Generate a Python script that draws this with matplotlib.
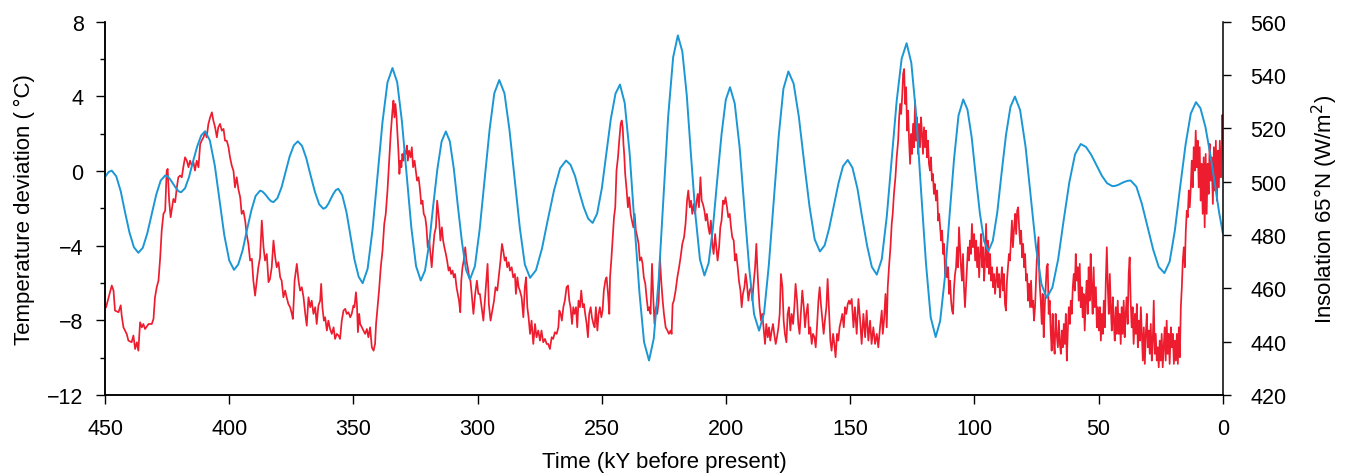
import matplotlib
matplotlib.use("Agg")
import matplotlib.pyplot as plt
from matplotlib.ticker import MultipleLocator

plt.rcParams['font.family'] = ['Liberation Sans', 'DejaVu Sans']

# insolation at 65N (W/m2)
insol_age = [450.0, 448.6, 447.3, 445.5, 443.7, 442.0, 440.2, 438.4, 436.6, 434.8, 433.0, 431.2, 429.4, 427.6,
             425.8, 424.7, 423.7, 422.6, 421.5, 420.5, 419.4, 417.8, 416.2, 414.6, 412.9, 411.3, 409.7, 407.8,
             405.8, 403.9, 402.0, 400.0, 398.1, 396.4, 394.6, 392.9, 391.1, 389.4, 387.6, 386.7, 385.8, 384.9,
             384.0, 383.1, 382.2, 380.6, 378.9, 377.3, 375.7, 374.0, 372.4, 370.7, 369.0, 367.3, 365.5, 363.8,
             362.1, 361.1, 360.1, 359.1, 358.1, 357.1, 356.1, 354.5, 352.8, 351.2, 349.6, 347.9, 346.3, 344.3,
             342.3, 340.3, 338.3, 336.3, 334.3, 332.4, 330.5, 328.6, 326.7, 324.8, 322.9, 321.2, 319.5, 317.9,
             316.2, 314.5, 312.8, 311.2, 309.6, 308.0, 306.3, 304.7, 303.1, 301.1, 299.2, 297.2, 295.2, 293.3,
             291.3, 289.2, 287.2, 285.1, 283.0, 281.0, 278.9, 276.5, 274.1, 271.7, 269.2, 266.8, 264.4, 262.6,
             260.8, 259.1, 257.3, 255.5, 253.7, 251.9, 250.0, 248.2, 246.4, 244.5, 242.7, 240.8, 238.8, 236.9,
             234.9, 233.0, 231.0, 229.1, 227.1, 225.2, 223.3, 221.3, 219.4, 217.6, 215.8, 214.1, 212.3, 210.5,
             208.7, 207.0, 205.3, 203.6, 201.8, 200.1, 198.4, 196.5, 194.5, 192.6, 190.6, 188.7, 186.7, 184.7,
             182.8, 180.8, 178.8, 176.9, 174.9, 172.8, 170.7, 168.6, 166.4, 164.3, 162.2, 160.3, 158.5, 156.6,
             154.7, 152.9, 151.0, 149.1, 147.1, 145.2, 143.2, 141.3, 139.3, 137.3, 135.3, 133.3, 131.3, 129.3,
             127.3, 125.4, 123.4, 121.5, 119.5, 117.6, 115.6, 113.8, 111.9, 110.1, 108.2, 106.4, 104.5, 102.8,
             101.1, 99.5, 97.8, 96.1, 94.4, 92.6, 90.8, 89.1, 87.3, 85.5, 83.7, 81.6, 79.4, 77.3,
             75.2, 73.0, 70.9, 68.6, 66.3, 64.1, 61.8, 59.5, 57.2, 55.1, 53.0, 50.9, 48.7, 46.6,
             44.5, 43.3, 42.0, 40.8, 39.6, 38.3, 37.1, 34.8, 32.6, 30.3, 28.0, 25.8, 23.5, 21.4,
             19.3, 17.2, 15.0, 12.9, 10.8, 9.0, 7.0, 5.0, 3.0, 1.5, 0.0]
insol = [501.7, 503.6, 504.1, 502.0, 496.4, 488.7, 481.0, 475.4, 473.3, 475.2, 480.6, 487.8, 495.1, 500.4,
         502.3, 501.9, 500.7, 499.2, 497.6, 496.4, 496.0, 497.5, 501.7, 507.5, 513.2, 517.3, 518.9, 515.4,
         505.9, 492.9, 479.9, 470.4, 466.9, 468.9, 474.3, 481.8, 489.2, 494.6, 496.6, 496.3, 495.5, 494.5,
         493.4, 492.6, 492.3, 493.8, 498.0, 503.7, 509.4, 513.6, 515.1, 513.4, 508.8, 502.5, 496.1, 491.5,
         489.8, 490.3, 491.7, 493.6, 495.4, 496.8, 497.3, 494.9, 488.5, 479.6, 470.8, 464.3, 461.9, 467.3,
         482.1, 502.3, 522.4, 537.2, 542.6, 537.3, 522.7, 502.8, 482.8, 468.3, 462.9, 466.6, 476.9, 490.9,
         504.8, 515.1, 518.8, 515.1, 504.9, 491.1, 477.2, 467.0, 463.3, 468.3, 482.0, 500.7, 519.4, 533.1,
         538.1, 533.1, 519.5, 501.0, 482.5, 468.9, 463.9, 466.8, 474.9, 485.9, 496.9, 505.0, 507.9, 506.3,
         502.1, 496.2, 490.4, 486.1, 484.5, 488.0, 497.5, 510.5, 523.4, 533.0, 536.4, 529.5, 510.5, 484.7,
         458.8, 439.8, 432.9, 441.1, 463.4, 493.9, 524.3, 546.6, 554.8, 548.8, 532.3, 509.8, 487.3, 470.8,
         464.8, 469.5, 482.5, 500.1, 517.8, 530.7, 535.4, 529.3, 512.6, 489.8, 466.9, 450.2, 444.1, 450.6,
         468.4, 492.7, 517.0, 534.8, 541.3, 536.8, 524.4, 507.6, 490.7, 478.3, 473.8, 476.1, 482.4, 491.0,
         499.5, 505.8, 508.1, 505.2, 497.4, 486.6, 475.9, 468.0, 465.1, 470.9, 486.8, 508.5, 530.2, 546.1,
         551.9, 544.5, 524.4, 496.8, 469.3, 449.1, 441.7, 447.7, 464.0, 486.3, 508.5, 524.8, 530.8, 527.0,
         516.6, 502.4, 488.1, 477.7, 473.9, 477.8, 488.4, 502.9, 517.4, 528.0, 531.9, 526.8, 513.0, 494.2,
         475.3, 461.5, 456.4, 460.3, 470.8, 485.3, 499.7, 510.2, 514.1, 513.0, 510.1, 506.2, 502.2, 499.4,
         498.3, 498.4, 498.8, 499.4, 499.9, 500.3, 500.4, 498.1, 491.7, 483.1, 474.4, 468.0, 465.7, 470.0,
         481.7, 497.8, 513.8, 525.5, 529.8, 527.5, 520.5, 510.0, 498.0, 488.5, 480.8]

# temperature deviation (deg C)
temp_age = [449.6, 447.3, 446.6, 446.0, 444.6, 443.7, 443.3, 442.6, 441.3, 440.6, 439.3, 438.6, 437.9, 437.2,
            436.6, 435.9, 435.2, 434.6, 433.9, 432.5, 431.2, 430.5, 429.9, 429.2, 428.5, 427.8, 427.2, 426.5,
            425.8, 425.2, 424.8, 424.2, 423.6, 423.0, 422.5, 421.8, 421.1, 420.5, 419.8, 419.1, 418.5, 417.8,
            417.1, 416.4, 415.8, 415.1, 414.4, 413.8, 413.1, 412.4, 411.7, 411.1, 410.4, 409.7, 409.1, 408.4,
            407.7, 407.0, 406.4, 405.7, 405.0, 404.4, 403.7, 403.0, 402.3, 401.7, 401.0, 400.3, 399.7, 399.0,
            398.3, 397.7, 397.0, 396.3, 395.6, 395.0, 394.3, 393.6, 393.0, 392.3, 391.6, 390.9, 390.3, 389.6,
            388.9, 388.3, 387.6, 386.9, 386.2, 385.6, 384.9, 384.2, 383.6, 382.9, 382.2, 381.5, 380.9, 380.2,
            379.5, 378.9, 378.2, 377.5, 376.9, 376.2, 375.5, 374.8, 374.4, 373.9, 373.7, 372.8, 372.1, 371.5,
            370.8, 370.1, 369.4, 368.8, 368.1, 367.4, 366.8, 366.1, 365.4, 364.8, 364.1, 363.4, 363.0, 362.5,
            361.9, 361.4, 360.7, 360.1, 359.4, 358.7, 358.0, 357.4, 356.7, 356.0, 355.4, 354.7, 354.0, 353.3,
            352.7, 352.0, 351.3, 350.7, 350.0, 349.6, 349.0, 348.6, 348.2, 347.7, 347.3, 346.6, 346.0, 345.3,
            344.6, 344.0, 343.3, 342.6, 341.9, 341.3, 340.9, 340.3, 339.7, 339.0, 338.3, 337.6, 337.0, 336.3,
            335.6, 335.0, 334.3, 333.9, 333.5, 333.1, 332.7, 332.3, 331.9, 331.5, 331.1, 330.7, 330.3, 329.9,
            329.5, 328.9, 328.5, 328.1, 327.6, 327.0, 326.5, 326.0, 325.4, 324.9, 324.4, 323.8, 323.3, 322.7,
            322.2, 321.7, 321.1, 320.6, 320.1, 319.5, 319.0, 318.5, 317.9, 317.4, 316.8, 316.3, 315.9, 315.5,
            315.0, 314.4, 313.9, 313.4, 312.8, 312.3, 311.7, 311.2, 310.7, 310.1, 309.6, 309.1, 308.5, 308.0,
            307.5, 307.0, 306.6, 306.1, 305.6, 305.0, 304.5, 304.0, 303.4, 302.9, 302.4, 301.7, 301.0, 300.3,
            299.7, 299.1, 298.4, 297.7, 297.1, 296.4, 296.0, 295.5, 294.8, 294.1, 293.4, 292.8, 292.1, 291.4,
            290.8, 290.2, 289.7, 289.1, 288.6, 288.1, 287.5, 287.0, 286.3, 285.7, 285.0, 284.6, 284.0, 283.5,
            283.0, 282.3, 281.6, 281.0, 280.5, 280.0, 279.5, 278.9, 278.3, 277.6, 276.9, 276.3, 275.6, 274.9,
            274.3, 273.6, 272.9, 272.2, 271.6, 270.9, 270.2, 269.6, 268.9, 268.2, 267.5, 267.1, 266.6, 266.1,
            265.5, 264.9, 264.2, 263.6, 263.1, 262.6, 262.0, 261.5, 261.0, 260.4, 259.9, 259.4, 258.8, 258.3,
            257.7, 257.2, 256.7, 256.1, 255.6, 255.1, 254.5, 254.0, 253.4, 252.9, 252.4, 251.8, 251.3, 250.8,
            250.2, 249.7, 249.2, 248.6, 248.1, 247.5, 247.0, 246.7, 246.2, 245.7, 245.1, 244.6, 244.1, 243.5,
            243.0, 242.4, 242.0, 241.6, 241.3, 241.0, 240.6, 240.0, 239.5, 239.0, 238.4, 237.9, 237.3, 236.8,
            236.3, 235.7, 235.2, 234.7, 234.1, 233.6, 233.1, 232.5, 232.0, 231.4, 230.9, 230.4, 229.8, 229.3,
            228.8, 228.2, 227.7, 227.1, 226.6, 226.1, 225.5, 225.0, 224.3, 223.6, 223.0, 222.3, 221.9, 221.5,
            221.0, 220.3, 219.6, 218.9, 218.3, 217.6, 216.9, 216.3, 215.7, 215.2, 214.6, 214.1, 213.6, 213.0,
            212.5, 212.0, 211.4, 210.9, 210.3, 209.8, 209.3, 208.7, 208.2, 207.7, 207.1, 206.6, 206.1, 205.5,
            205.0, 204.4, 203.9, 203.4, 202.8, 202.3, 201.8, 201.2, 200.7, 200.2, 199.6, 199.1, 198.5, 198.0,
            197.5, 196.9, 196.4, 195.9, 195.3, 194.8, 194.2, 193.7, 193.2, 192.6, 192.1, 191.6, 191.0, 190.5,
            189.9, 189.4, 188.9, 188.3, 187.8, 187.4, 187.0, 186.5, 185.9, 185.4, 184.9, 184.3, 183.8, 183.2,
            182.7, 182.2, 181.6, 181.1, 180.6, 180.0, 179.5, 178.9, 178.4, 177.9, 177.3, 176.8, 176.3, 175.7,
            175.2, 174.7, 174.1, 173.6, 173.0, 172.5, 172.0, 171.4, 170.9, 170.4, 169.8, 169.3, 168.7, 168.2,
            167.7, 167.1, 166.6, 166.1, 165.5, 165.0, 164.4, 163.9, 163.4, 162.8, 162.3, 161.8, 161.2, 160.7,
            160.2, 159.6, 159.1, 158.5, 158.0, 157.5, 156.9, 156.4, 155.9, 155.3, 154.8, 154.3, 153.7, 153.2,
            152.6, 152.1, 151.6, 151.0, 150.5, 150.1, 149.4, 148.7, 148.1, 147.4, 146.7, 146.0, 145.4, 144.7,
            144.0, 143.4, 142.7, 142.0, 141.4, 140.7, 140.0, 139.3, 138.7, 138.0, 137.3, 136.9, 136.4, 135.8,
            135.3, 134.9, 134.4, 133.8, 133.3, 132.9, 132.4, 131.8, 131.3, 130.7, 130.3, 129.9, 129.5, 129.1,
            128.7, 128.3, 127.9, 127.5, 127.1, 126.7, 126.3, 125.9, 125.5, 125.1, 124.7, 124.3, 123.9, 123.5,
            123.1, 122.7, 122.3, 121.9, 121.5, 121.1, 120.7, 120.3, 119.9, 119.5, 119.1, 118.7, 118.3, 117.9,
            117.5, 117.1, 116.7, 116.3, 115.9, 115.5, 115.0, 114.6, 114.2, 113.8, 113.4, 113.0, 112.6, 112.2,
            111.8, 111.4, 111.0, 110.6, 110.2, 109.8, 109.4, 109.0, 108.6, 108.2, 107.8, 107.4, 107.0, 106.6,
            106.2, 105.8, 105.4, 105.0, 104.6, 104.2, 103.8, 103.4, 103.0, 102.6, 102.2, 101.8, 101.4, 101.0,
            100.6, 100.1, 99.7, 99.3, 98.9, 98.5, 98.1, 97.7, 97.3, 96.9, 96.5, 96.1, 95.7, 95.3,
            94.9, 94.5, 94.1, 93.7, 93.3, 92.9, 92.5, 92.1, 91.7, 91.3, 90.9, 90.5, 90.1, 89.7,
            89.3, 88.9, 88.5, 88.1, 87.7, 87.3, 86.9, 86.5, 86.1, 85.7, 85.3, 84.9, 84.5, 84.0,
            83.6, 83.2, 82.8, 82.4, 82.0, 81.6, 81.2, 80.8, 80.4, 80.0, 79.6, 79.2, 78.8, 78.4,
            78.0, 77.6, 77.2, 76.8, 76.4, 76.0, 75.6, 74.9, 74.2, 73.8, 73.3, 72.9, 72.5, 72.1,
            71.7, 71.3, 70.9, 70.5, 70.1, 69.7, 69.3, 68.9, 68.5, 68.1, 67.7, 67.3, 66.9, 66.4,
            66.0, 65.6, 65.2, 64.8, 64.4, 64.0, 63.6, 63.2, 62.8, 62.4, 62.0, 61.6, 61.2, 60.8,
            60.4, 60.0, 59.6, 59.2, 58.8, 58.4, 58.0, 57.6, 57.2, 56.8, 56.4, 56.0, 55.6, 55.2,
            54.8, 54.4, 54.0, 53.6, 53.2, 52.8, 52.4, 52.0, 51.6, 51.1, 50.7, 50.3, 49.9, 49.5,
            49.1, 48.7, 48.3, 47.9, 47.5, 47.1, 46.7, 46.3, 45.9, 45.5, 45.1, 44.7, 44.3, 43.9,
            43.5, 43.1, 42.7, 42.3, 41.9, 41.5, 41.1, 40.7, 40.3, 39.9, 39.5, 39.1, 38.7, 38.3,
            37.9, 37.5, 37.1, 36.7, 36.3, 35.9, 35.4, 35.0, 34.6, 34.2, 33.8, 33.4, 33.0, 32.6,
            32.2, 31.8, 31.4, 31.0, 30.6, 30.2, 29.8, 29.4, 29.0, 28.6, 28.2, 27.8, 27.4, 27.0,
            26.6, 26.2, 25.8, 25.4, 25.0, 24.6, 24.2, 23.8, 23.4, 23.0, 22.6, 22.2, 21.8, 21.4,
            20.9, 20.5, 20.1, 19.7, 19.3, 18.9, 18.5, 18.1, 17.7, 17.3, 16.9, 16.5, 16.1, 15.7,
            15.3, 14.9, 14.5, 14.1, 13.7, 13.3, 12.9, 12.5, 12.1, 11.7, 11.3, 10.9, 10.5, 10.1,
            9.7, 9.3, 8.9, 8.5, 8.1, 7.7, 7.3, 6.9, 6.5, 6.1, 5.7, 5.3, 4.9, 4.5,
            4.0, 3.6, 3.2, 2.8, 2.4, 2.0, 1.6, 1.2, 0.8, 0.4, 0.2, 0.0]
temp = [-7.3, -6.14, -6.41, -7.48, -7.57, -7.2, -7.75, -8.38, -8.73, -9.09, -9.18, -8.82, -9.54, -9.18,
        -9.63, -8.11, -8.38, -8.2, -8.47, -8.2, -8.2, -7.93, -6.77, -6.23, -5.88, -4.63, -3.2, -2.3,
        -2.13, 0.0, 0.11, -1.59, -2.48, -1.95, -1.5, -1.68, -0.88, -0.34, -0.25, -0.34, 0.2, 0.73,
        0.55, 0.2, 0.55, 0.29, 0.46, 0.02, 0.55, 0.2, 1.45, 1.62, 1.8, 2.07, 1.8, 2.52,
        2.87, 3.14, 2.7, 2.34, 1.8, 2.34, 2.52, 2.16, 2.25, 1.62, 1.62, 1.27, 0.73, 0.29,
        0.0, -0.88, -0.34, -1.0, -1.41, -2.3, -2.13, -2.66, -3.38, -3.91, -4.8, -4.71, -5.88, -6.68,
        -5.88, -5.16, -4.63, -2.66, -4.09, -4.8, -4.45, -5.96, -5.79, -5.16, -3.73, -4.63, -5.16, -4.89,
        -5.7, -5.88, -6.77, -6.41, -6.77, -7.13, -7.3, -7.66, -7.93, -6.59, -5.88, -4.98, -5.88, -6.41,
        -6.23, -6.77, -7.66, -8.29, -6.77, -7.3, -6.95, -7.66, -7.3, -8.2, -7.21, -6.95, -6.05, -7.3,
        -8.02, -7.84, -8.55, -8.02, -8.47, -8.73, -8.38, -9.0, -8.73, -8.82, -9.0, -8.02, -7.48, -7.39,
        -7.66, -7.57, -7.84, -7.66, -7.21, -7.3, -6.5, -7.13, -8.64, -7.66, -8.2, -8.38, -8.55, -8.73,
        -8.47, -8.91, -8.38, -9.45, -9.63, -9.27, -8.2, -7.3, -6.41, -5.16, -4.27, -2.84, -2.3, -1.05,
        0.55, 1.98, 3.23, 3.77, 2.87, 3.59, 2.96, 1.98, 1.09, -0.16, 0.55, 0.2, 0.91, 0.55,
        1.09, 0.91, 1.36, 0.55, 1.09, 0.73, 1.27, 0.2, 0.55, 0.02, -0.52, -0.34, -0.88, -1.77,
        -1.59, -2.3, -2.48, -3.02, -4.09, -3.73, -4.45, -5.16, -4.09, -3.38, -3.02, -1.59, -2.13, -2.66,
        -3.73, -3.02, -3.73, -4.09, -4.45, -4.8, -5.34, -5.16, -5.52, -5.34, -5.7, -5.52, -6.23, -6.59,
        -6.95, -7.57, -5.88, -5.16, -4.8, -4.09, -4.8, -5.16, -5.7, -5.88, -6.59, -7.66, -6.59, -5.88,
        -6.59, -6.59, -7.3, -8.02, -6.95, -5.7, -4.98, -7.13, -8.02, -7.48, -6.95, -6.23, -6.41, -5.52,
        -4.8, -3.91, -4.27, -4.8, -4.63, -5.16, -4.89, -5.34, -5.16, -5.7, -5.52, -6.59, -5.7, -6.23,
        -6.41, -6.77, -7.84, -6.23, -5.7, -7.3, -7.84, -8.73, -8.02, -9.27, -8.2, -8.91, -8.55, -9.09,
        -8.55, -9.18, -9.0, -9.27, -9.27, -9.54, -8.91, -9.0, -8.64, -8.73, -8.38, -7.48, -7.66, -8.02,
        -7.3, -6.95, -6.23, -6.14, -6.95, -7.3, -8.2, -7.3, -7.66, -7.3, -8.38, -6.95, -7.3, -6.41,
        -7.3, -7.13, -7.66, -8.2, -8.91, -7.66, -7.3, -7.84, -8.2, -8.38, -7.3, -8.55, -7.66, -7.3,
        -7.84, -7.48, -6.41, -5.88, -5.7, -6.59, -7.66, -5.7, -4.8, -3.73, -2.48, -1.95, 0.02, 0.73,
        1.62, 2.52, 2.7, 2.34, 1.45, 0.91, -0.16, -1.05, -1.95, -1.41, -2.3, -2.66, -3.02, -2.3,
        -3.2, -3.55, -3.91, -4.8, -4.63, -4.98, -5.7, -6.05, -6.77, -7.48, -7.3, -7.66, -4.98, -6.77,
        -8.2, -7.3, -7.66, -6.95, -4.63, -5.88, -6.95, -7.66, -8.38, -8.55, -8.73, -8.55, -8.73, -7.13,
        -6.95, -6.41, -5.7, -5.16, -4.63, -3.91, -3.55, -2.84, -1.59, -1.05, -1.95, -1.59, -2.3, -1.77,
        -2.3, -1.77, -1.23, -1.95, -0.34, -1.59, -1.77, -2.13, -2.66, -2.3, -3.02, -3.38, -2.66, -3.91,
        -4.45, -3.38, -4.09, -4.8, -4.09, -3.02, -2.66, -1.59, -1.77, -1.41, -1.95, -2.48, -2.3, -3.02,
        -3.55, -3.73, -4.8, -4.45, -5.16, -5.88, -6.41, -7.3, -6.59, -6.23, -5.52, -6.05, -6.95, -6.41,
        -6.23, -6.95, -6.05, -5.16, -3.91, -5.16, -6.23, -7.3, -8.02, -7.66, -8.38, -9.27, -8.2, -8.91,
        -8.38, -9.09, -8.55, -8.2, -8.73, -9.27, -8.91, -8.38, -7.66, -5.52, -6.23, -8.02, -8.73, -9.18,
        -7.66, -7.3, -8.55, -7.66, -8.2, -7.3, -6.05, -6.95, -8.2, -8.73, -7.48, -6.41, -7.3, -8.38,
        -7.66, -7.13, -8.73, -8.38, -9.27, -8.73, -8.91, -9.45, -8.38, -6.95, -6.23, -7.13, -8.02, -8.73,
        -8.02, -7.3, -5.79, -7.66, -9.09, -9.63, -8.73, -9.27, -9.98, -8.73, -9.09, -8.38, -8.02, -7.66,
        -8.38, -7.3, -7.66, -7.13, -6.95, -7.13, -6.86, -8.38, -7.3, -8.73, -6.86, -8.02, -9.27, -7.66,
        -8.91, -7.48, -9.09, -8.02, -9.27, -8.38, -9.27, -8.73, -9.45, -8.38, -7.48, -8.73, -8.02, -6.59,
        -8.38, -6.23, -5.16, -4.09, -2.84, -2.3, -1.23, -0.34, 0.73, 1.62, 2.87, 3.59, 3.05, 3.95,
        5.2, 5.46, 3.59, 4.48, 2.16, 3.23, 1.62, 0.38, 1.98, 0.91, 2.52, 1.27, 3.77, 1.62,
        2.87, 0.91, 2.52, 1.27, 2.87, 1.98, 0.91, 2.34, 1.27, 2.16, 0.73, 1.62, 0.38, 0.02,
        0.73, -0.52, -0.16, -1.23, -0.7, -1.59, -1.05, -2.66, -2.3, -3.02, -3.73, -3.2, -4.45, -3.91,
        -5.52, -4.8, -5.7, -5.16, -6.59, -5.88, -6.95, -7.48, -7.66, -6.23, -5.52, -5.16, -4.09, -5.16,
        -3.02, -4.09, -5.16, -5.88, -4.45, -6.23, -7.3, -6.23, -5.16, -4.09, -4.8, -3.73, -4.45, -2.84,
        -4.09, -3.38, -4.8, -3.73, -5.16, -4.09, -5.7, -4.45, -3.38, -5.16, -4.09, -5.88, -4.8, -2.84,
        -5.16, -3.73, -5.52, -4.45, -5.88, -5.16, -6.23, -5.52, -6.59, -5.88, -5.16, -6.23, -5.52, -6.77,
        -5.88, -5.16, -6.41, -5.52, -7.13, -7.48, -5.88, -5.16, -4.45, -4.8, -3.73, -2.66, -4.09, -3.02,
        -2.3, -3.38, -2.13, -1.95, -3.02, -3.91, -3.2, -4.63, -3.91, -5.16, -4.45, -5.88, -5.52, -6.95,
        -6.05, -7.3, -5.88, -7.3, -6.95, -8.02, -7.3, -4.8, -3.55, -5.88, -6.95, -8.2, -6.59, -8.91,
        -7.3, -6.23, -5.16, -4.98, -7.66, -6.95, -8.55, -9.63, -7.66, -9.09, -9.8, -7.66, -8.73, -9.45,
        -8.02, -9.27, -9.8, -8.55, -9.45, -8.2, -9.27, -7.66, -10.16, -8.55, -7.3, -8.2, -6.95, -7.66,
        -6.23, -5.52, -6.41, -4.45, -5.88, -5.16, -6.95, -4.98, -7.3, -6.23, -7.84, -6.59, -8.55, -6.95,
        -5.88, -7.66, -5.16, -6.95, -4.45, -6.23, -7.66, -5.16, -7.3, -6.23, -8.38, -7.3, -8.55, -7.3,
        -9.09, -7.66, -8.73, -6.95, -8.38, -5.88, -4.09, -6.23, -7.66, -5.52, -7.3, -8.55, -6.77, -8.02,
        -9.09, -7.3, -8.73, -6.95, -8.73, -7.66, -9.27, -7.3, -8.73, -6.95, -8.91, -7.66, -6.77, -8.2,
        -5.52, -4.63, -6.95, -8.38, -7.3, -9.27, -7.66, -8.73, -7.13, -9.45, -8.02, -9.09, -7.3, -8.73,
        -10.16, -8.38, -10.34, -8.73, -7.66, -9.45, -8.55, -9.8, -8.2, -10.16, -9.09, -6.95, -9.8, -8.73,
        -10.16, -9.45, -10.52, -9.09, -10.16, -8.73, -10.52, -9.45, -8.38, -10.16, -8.02, -9.8, -8.73, -10.34,
        -8.38, -9.45, -8.73, -10.34, -9.09, -10.16, -8.73, -10.34, -8.38, -9.98, -7.3, -6.23, -4.8, -4.09,
        -5.16, -3.2, -2.13, -2.48, -1.05, -1.95, -0.88, 0.55, -0.88, 1.27, 0.02, 2.16, 0.2, 1.62,
        -0.88, 1.27, -1.59, 0.38, -2.3, 0.73, -3.02, 0.91, -2.3, 0.38, -1.23, 1.45, -0.52, 0.73,
        -1.77, 1.27, -1.05, 1.62, -1.59, 1.09, -0.88, 1.62, -0.34, 1.09, 3.0, 1.5]

red = '#ed1c2e'
blue = '#1b97d5'

fig = plt.figure(figsize=(13.47, 4.77), dpi=100)
ax = fig.add_axes([0.078, 0.170, 0.8298, 0.7826])
ax2 = ax.twinx()

ax.plot(temp_age, temp, color=red, lw=1.25)
ax2.plot(insol_age, insol, color=blue, lw=1.4)

ax.set_xlim(450, 0)
ax.set_ylim(-12, 8)
ax2.set_ylim(420, 560)

ax.xaxis.set_major_locator(MultipleLocator(50))
ax.yaxis.set_major_locator(MultipleLocator(4))
ax.yaxis.set_minor_locator(MultipleLocator(2))
ax2.yaxis.set_major_locator(MultipleLocator(20))
ax.yaxis.set_major_formatter(plt.FuncFormatter(lambda v, p: f'{v:.0f}'.replace('-', '\u2212')))

for a in (ax, ax2):
    a.spines['top'].set_visible(False)
    for s in a.spines.values():
        s.set_linewidth(1.1)
ax.spines['right'].set_visible(False)

ax.tick_params(axis='x', which='major', direction='out', length=6.5, width=1.0, labelsize=15.5, pad=10)
ax.tick_params(axis='y', which='major', direction='out', length=6.5, width=1.0, labelsize=15.5, pad=9)
ax.tick_params(axis='y', which='minor', direction='out', length=3.6, width=1.0)
ax2.tick_params(axis='y', which='major', direction='out', length=5.8, width=1.0, labelsize=15.5, pad=14)

ax.set_xlabel('Time (kY before present)', fontsize=16, labelpad=9)
ax.set_ylabel('Temperature deviation (\u2009°C)', fontsize=16, labelpad=9)
ax2.set_ylabel('Insolation 65°N (W/m$^2$)', fontsize=16, labelpad=17)

fig.savefig('out.png', dpi=100)
